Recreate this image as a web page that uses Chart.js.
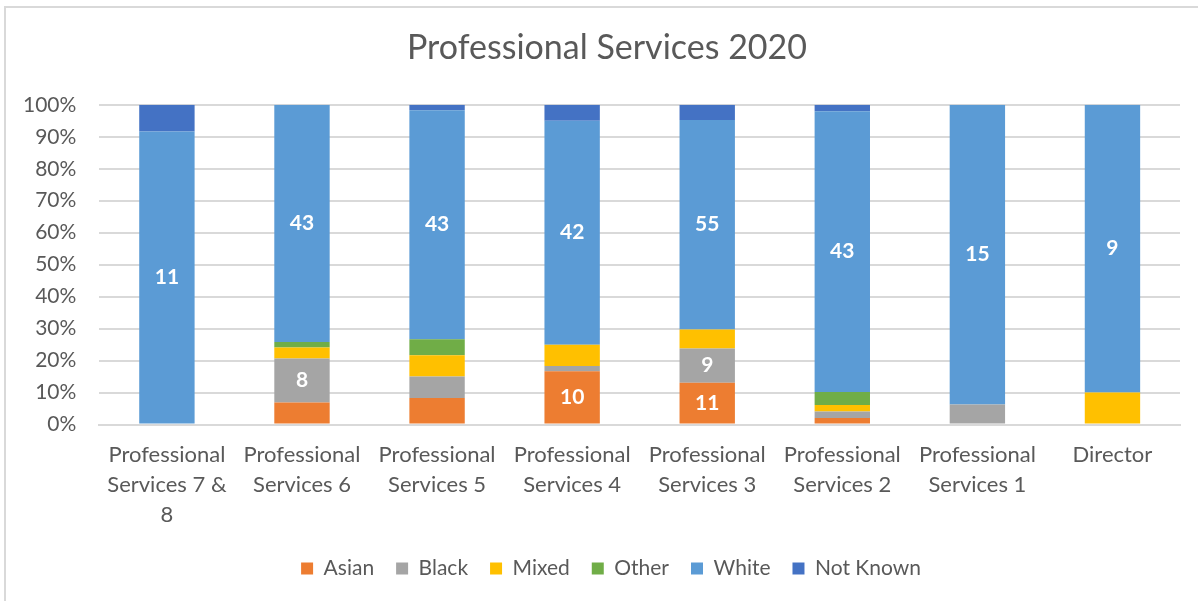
<!DOCTYPE html>
<html>
<head>
<meta charset="utf-8">
<script src="https://cdn.jsdelivr.net/npm/chart.js@4.4.0/dist/chart.umd.min.js"></script>
<style>
  html, body { margin: 0; padding: 0; background: #fff; }
  #wrap { position: relative; width: 1198px; height: 601px; overflow: hidden; }
  #frame { position: absolute; left: 4px; top: 6px; width: 1300px; height: 700px;
           border-top: 2px solid #d9d9d9; border-left: 2px solid #d9d9d9; box-sizing: border-box; }
  canvas { position: absolute; left: 0; top: 0; }
</style>
</head>
<body>
<div id="wrap">
  <div id="frame"></div>
  <canvas id="c" width="1198" height="601"></canvas>
</div>
<script>
const categories = [
  ["Professional", "Services 7 &", "8"],
  ["Professional", "Services 6"],
  ["Professional", "Services 5"],
  ["Professional", "Services 4"],
  ["Professional", "Services 3"],
  ["Professional", "Services 2"],
  ["Professional", "Services 1"],
  ["Director"]
];
const asian    = [0, 4, 5, 10, 11, 1, 0, 0];
const black    = [0, 8, 4, 1, 9, 1, 1, 0];
const mixed    = [0, 2, 4, 4, 5, 1, 0, 1];
const other    = [0, 1, 3, 0, 0, 2, 0, 0];
const white    = [11, 43, 43, 42, 55, 43, 15, 9];
const notKnown = [1, 0, 1, 3, 4, 1, 0, 0];
const yTicks = [0, 10, 20, 30, 40, 50, 60, 70, 80, 90, 100];

const seriesNames  = ["Asian", "Black", "Mixed", "Other", "White", "Not Known"];
const seriesCounts = [asian, black, mixed, other, white, notKnown];
const seriesColors = ["#ed7d31", "#a5a5a5", "#ffc000", "#70ad47", "#5b9bd5", "#4472c4"];

const totals = categories.map((_, i) => seriesCounts.reduce((s, arr) => s + arr[i], 0));

const datasets = seriesNames.map((name, k) => ({
  label: name,
  counts: seriesCounts[k],
  data: seriesCounts[k].map((v, i) => v / totals[i] * 100),
  backgroundColor: seriesColors[k],
  borderWidth: 0,
  barPercentage: 1,
  categoryPercentage: 0.41
}));

const FONT = "Lato, 'Open Sans', sans-serif";

const labelPlugin = {
  id: 'countLabels',
  afterDatasetsDraw(chart) {
    const ctx = chart.ctx;
    ctx.save();
    ctx.fillStyle = '#ffffff';
    ctx.font = "bold 21px " + FONT;
    ctx.textAlign = 'center';
    ctx.textBaseline = 'middle';
    chart.data.datasets.forEach((ds, di) => {
      const meta = chart.getDatasetMeta(di);
      meta.data.forEach((bar, i) => {
        const v = ds.counts[i];
        if (v >= 8) {
          const cy = (bar.y + bar.base) / 2;
          ctx.fillText(String(v), bar.x, cy);
        }
      });
    });
    ctx.restore();
  }
};

// Centre the title and legend on the whole frame (as the reference does)
const shiftPlugin = {
  id: 'shiftBlocks',
  afterLayout(chart) {
    if (chart.titleBlock) { chart.titleBlock.left += 17; chart.titleBlock.right += 17; }
    if (chart.legend) { chart.legend.left += 21; chart.legend.right += 21; }
  }
};

new Chart(document.getElementById('c'), {
  type: 'bar',
  data: { labels: categories, datasets },
  options: {
    responsive: false,
    animation: false,
    layout: { padding: { left: 0, right: 18, top: 0, bottom: 12 } },
    plugins: {
      title: {
        display: true,
        text: 'Professional Services 2020',
        color: '#595959',
        font: { family: FONT, size: 34, weight: 'normal' },
        padding: { top: 28, bottom: 36 }
      },
      legend: {
        position: 'bottom',
        labels: {
          color: '#595959',
          font: { family: FONT, size: 21 },
          boxWidth: 12,
          boxHeight: 12,
          padding: 22
        }
      },
      tooltip: { enabled: false }
    },
    scales: {
      x: {
        stacked: true,
        grid: { display: false },
        border: { display: true, color: '#d9d9d9', width: 2 },
        afterFit: (axis) => { axis.height -= 1; },
        ticks: {
          color: '#595959',
          font: { family: FONT, size: 22, lineHeight: 1.37 },
          maxRotation: 0,
          autoSkip: false,
          padding: 7
        }
      },
      y: {
        stacked: true,
        min: 0,
        max: 100,
        afterBuildTicks: (axis) => { axis.ticks = yTicks.map(v => ({ value: v })); },
        grid: { color: '#d9d9d9', lineWidth: 2, drawTicks: false },
        border: { display: false },
        ticks: {
          color: '#595959',
          font: { family: FONT, size: 21 },
          padding: 23,
          callback: (v) => v + '%'
        }
      }
    }
  },
  plugins: [labelPlugin, shiftPlugin]
});
</script>
</body>
</html>
